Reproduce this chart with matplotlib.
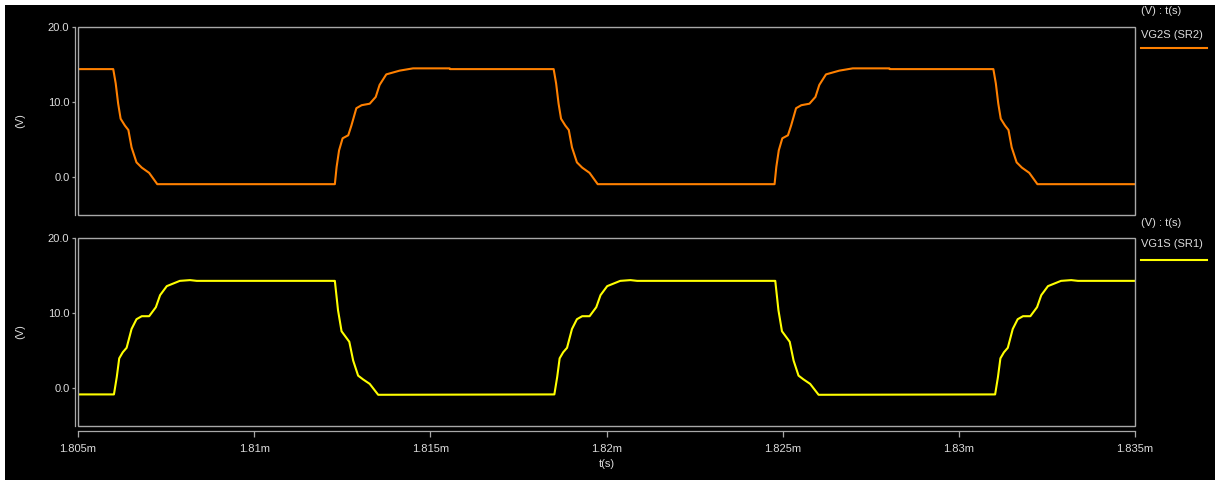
import matplotlib
matplotlib.use("Agg")
import matplotlib.pyplot as plt
from matplotlib.patches import Rectangle
from matplotlib.lines import Line2D
import numpy as np

# ---- data (time in microseconds, voltage in V) ----
t_start, t_end = 1805.0, 1835.0
xticks = [1805, 1810, 1815, 1820, 1825, 1830, 1835]
xtick_labels = ["1.805m", "1.81m", "1.815m", "1.82m", "1.825m", "1.83m", "1.835m"]
yticks = [0, 10, 20]
ytick_labels = ["0.0", "10.0", "20.0"]

# VG2S (SR2) - orange
vg2_fall_times = [1806.00, 1818.50, 1830.98]
vg2_rise_times = [1812.29, 1824.77]
vg2_fall_dt = [0, 0.07, 0.14, 0.21, 0.33, 0.43, 0.52, 0.66, 0.81, 1.02, 1.25]
vg2_fall_v = [14.4, 12.5, 9.8, 7.8, 6.9, 6.3, 4.0, 2.0, 1.3, 0.6, -0.9]
vg2_rise_dt = [0, 0.05, 0.12, 0.22, 0.38, 0.47, 0.61, 0.76, 0.99, 1.16, 1.27, 1.46, 1.84, 2.22, 3.26, 3.27]
vg2_rise_v = [-0.9, 1.4, 3.6, 5.2, 5.6, 6.9, 9.2, 9.6, 9.8, 10.7, 12.3, 13.7, 14.2, 14.5, 14.5, 14.4]
vg2_initial = 14.4

# VG1S (SR1) - yellow
vg1_rise_times = [1806.02, 1818.52, 1831.03]
vg1_fall_times = [1812.27, 1824.77]
vg1_rise_dt = [0, 0.08, 0.15, 0.25, 0.36, 0.50, 0.64, 0.79, 1.00, 1.19, 1.31, 1.50, 1.87, 2.16, 2.35]
vg1_rise_v = [-0.8, 1.5, 4.0, 4.8, 5.4, 7.9, 9.2, 9.6, 9.6, 10.8, 12.4, 13.6, 14.3, 14.4, 14.3]
vg1_fall_dt = [0, 0.02, 0.11, 0.21, 0.43, 0.54, 0.68, 0.82, 1.01, 1.25]
vg1_fall_v = [14.3, 14.3, 10.4, 7.6, 6.2, 3.7, 1.7, 1.2, 0.6, -0.85]
vg1_initial = -0.8


def build(initial, edges):
    """edges: list of (t0, dt list, v list)"""
    ts, vs = [t_start], [initial]
    for t0, dts, v in sorted(edges, key=lambda e: e[0]):
        ts.extend(t0 + np.asarray(dts))
        vs.extend(v)
    ts.append(t_end)
    vs.append(vs[-1])
    return np.array(ts), np.array(vs)


vg2_t, vg2_v = build(vg2_initial,
                     [(t, vg2_fall_dt, vg2_fall_v) for t in vg2_fall_times] +
                     [(t, vg2_rise_dt, vg2_rise_v) for t in vg2_rise_times])
vg1_t, vg1_v = build(vg1_initial,
                     [(t, vg1_rise_dt, vg1_rise_v) for t in vg1_rise_times] +
                     [(t, vg1_fall_dt, vg1_fall_v) for t in vg1_fall_times])

# ---- styling ----
W, H = 1221, 480
FONT = "Liberation Sans"
GRAY = "#a8a8a8"
TXT = "#dcdcdc"
ORANGE = "#ff8000"
YELLOW = "#ffff00"

fig = plt.figure(figsize=(W / 100, H / 100), dpi=100, facecolor="white")
# black canvas
fig.patches.append(Rectangle((5 / W, 0), 1210 / W, 475 / H, transform=fig.transFigure,
                             facecolor="black", edgecolor="none", zorder=-10))


def px_axes(left, top, right, bottom):
    return fig.add_axes([left / W, 1 - bottom / H, (right - left) / W, (bottom - top) / H])


def style(ax, show_x):
    ax.set_facecolor("black")
    ax.set_xlim(t_start, t_end)
    ax.set_ylim(-5, 20)
    for s in ["top", "right"]:
        ax.spines[s].set_visible(False)
    ax.spines["left"].set_color(GRAY)
    ax.spines["left"].set_linewidth(0.9)
    ax.spines["left"].set_position(("outward", 2.2))
    # frame box
    ax.add_patch(Rectangle((0, 0), 1, 1, transform=ax.transAxes, fill=False,
                           edgecolor=GRAY, linewidth=1.0, clip_on=False, zorder=5))
    ax.set_yticks(yticks)
    ax.set_yticklabels(ytick_labels, fontfamily=FONT, fontsize=8, color=TXT)
    ax.tick_params(axis="y", direction="out", length=2.5, width=0.9, color=GRAY, pad=1.5)
    ax.set_ylabel("(V)", fontfamily=FONT, fontsize=8, color=TXT)
    if show_x:
        ax.spines["bottom"].set_color(GRAY)
        ax.spines["bottom"].set_linewidth(0.9)
        ax.spines["bottom"].set_position(("outward", 3.6))
        ax.set_xticks(xticks)
        ax.set_xticklabels(xtick_labels, fontfamily=FONT, fontsize=8, color=TXT)
        ax.tick_params(axis="x", direction="out", length=4, width=0.9, color=GRAY, pad=5)
        ax.set_xlabel("t(s)", fontfamily=FONT, fontsize=8, color=TXT, labelpad=4)
    else:
        ax.spines["bottom"].set_visible(False)
        ax.set_xticks([])


ax1 = px_axes(78, 27, 1135, 215)
style(ax1, False)
ax1.plot(vg2_t, vg2_v, color=ORANGE, linewidth=1.5)

ax2 = px_axes(78, 238, 1135, 426)
style(ax2, True)
ax2.plot(vg1_t, vg1_v, color=YELLOW, linewidth=1.5)

# y label positions aligned
for ax in (ax1, ax2):
    ax.yaxis.set_label_coords(-(78 - 25) / 1057, 0.5)


def legend(y_hdr, y_name, y_line, name, color):
    fig.text(1141 / W, 1 - y_hdr / H, "(V) : t(s)", fontfamily=FONT, fontsize=8,
             color=TXT, va="center", ha="left")
    fig.text(1141 / W, 1 - y_name / H, name, fontfamily=FONT, fontsize=8,
             color=TXT, va="center", ha="left")
    fig.add_artist(Line2D([1141 / W, 1207 / W], [1 - y_line / H] * 2,
                          transform=fig.transFigure, color=color, linewidth=1.5))


legend(11, 35, 48, "VG2S (SR2)", ORANGE)
legend(223, 244, 260, "VG1S (SR1)", YELLOW)

fig.savefig("out.png", dpi=100, facecolor=fig.get_facecolor())
